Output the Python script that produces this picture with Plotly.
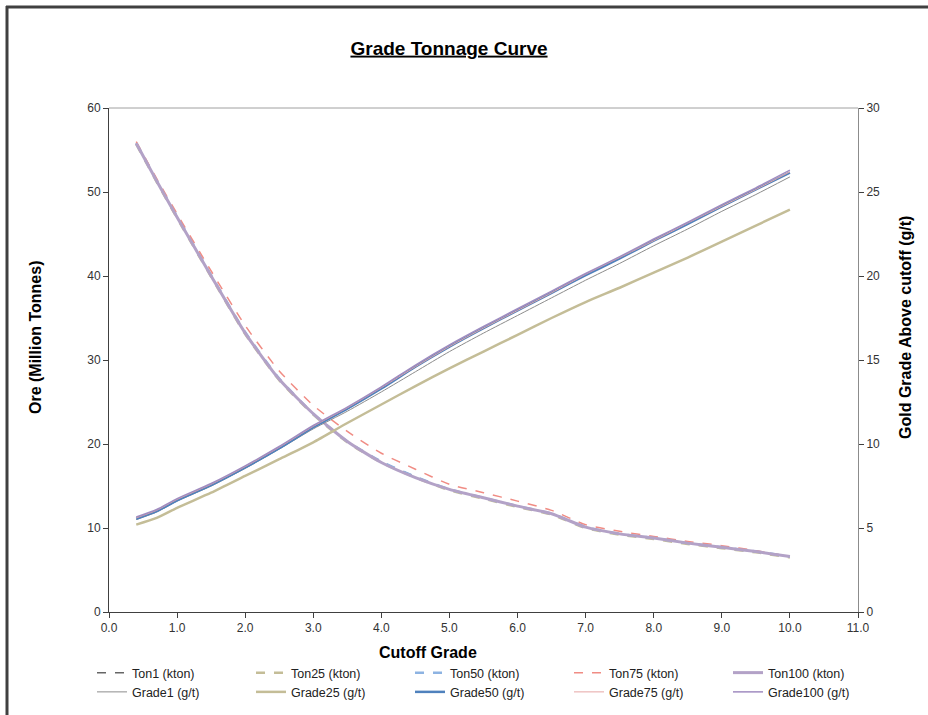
import plotly.graph_objects as go

# Cutoff grades (g/t) at which tonnage and grade were reported
cutoff = [0.4, 0.7, 1.0, 1.5, 2.0, 2.5, 3.0, 3.5, 4.0, 4.5, 5.0,
          5.5, 6.0, 6.5, 7.0, 7.5, 8.0, 8.5, 9.0, 9.5, 10.0]

# Ore above cutoff (million tonnes) per simulation
ton1 = [55.8, 51.3, 47.0, 40.0, 33.2, 27.7, 23.6, 20.3, 17.9, 16.1, 14.6,
        13.6, 12.6, 11.7, 10.1, 9.3, 8.8, 8.2, 7.7, 7.2, 6.6]
ton25 = [55.7, 51.2, 46.9, 39.9, 33.1, 27.6, 23.5, 20.2, 17.8, 16.0, 14.5,
         13.5, 12.5, 11.6, 10.0, 9.2, 8.7, 8.1, 7.6, 7.1, 6.5]
ton50 = [55.8, 51.4, 47.1, 40.1, 33.3, 27.8, 23.6, 20.3, 17.9, 16.1, 14.6,
         13.6, 12.6, 11.7, 10.1, 9.3, 8.8, 8.2, 7.7, 7.2, 6.6]
ton75 = [56.0, 51.6, 47.4, 40.6, 34.1, 28.7, 24.6, 21.5, 18.9, 17.0, 15.2,
         14.2, 13.2, 12.1, 10.4, 9.6, 9.0, 8.4, 7.9, 7.3, 6.6]
ton100 = [55.8, 51.3, 47.0, 40.0, 33.2, 27.7, 23.6, 20.3, 17.8, 16.0, 14.6,
          13.6, 12.6, 11.7, 10.1, 9.3, 8.8, 8.2, 7.7, 7.2, 6.6]

# Mean gold grade above cutoff (g/t) per simulation
grade1 = [5.5, 5.95, 6.6, 7.5, 8.55, 9.7, 10.9, 11.95, 13.1, 14.3, 15.5,
          16.6, 17.65, 18.7, 19.75, 20.75, 21.8, 22.8, 23.85, 24.85, 25.9]
grade25 = [5.2, 5.6, 6.2, 7.1, 8.1, 9.1, 10.1, 11.25, 12.35, 13.45, 14.5,
           15.5, 16.5, 17.5, 18.45, 19.3, 20.2, 21.1, 22.05, 23.0, 23.95]
grade50 = [5.55, 6.0, 6.65, 7.55, 8.6, 9.75, 11.0, 12.1, 13.3, 14.6, 15.8,
           16.9, 17.95, 19.0, 20.05, 21.05, 22.1, 23.1, 24.15, 25.15, 26.15]
grade75 = [5.6, 6.05, 6.7, 7.6, 8.65, 9.8, 11.05, 12.15, 13.35, 14.6, 15.8,
           16.9, 17.95, 19.0, 20.1, 21.1, 22.1, 23.15, 24.15, 25.15, 26.2]
grade100 = [5.65, 6.1, 6.75, 7.65, 8.7, 9.85, 11.1, 12.2, 13.4, 14.7, 15.9,
            17.0, 18.05, 19.1, 20.15, 21.15, 22.2, 23.2, 24.25, 25.25, 26.3]

x_ticks = [0, 1, 2, 3, 4, 5, 6, 7, 8, 9, 10, 11]

FONT = "Liberation Sans, Arial, sans-serif"

fig = go.Figure()

ton_series = [
    ("Ton1 (kton)", ton1, "#666666", 1.5, "dash"),
    ("Ton25 (kton)", ton25, "#c4bd97", 2.5, "dash"),
    ("Ton50 (kton)", ton50, "#8db3e2", 2.5, "dash"),
    ("Ton75 (kton)", ton75, "#f08c84", 1.5, "dash"),
    ("Ton100 (kton)", ton100, "#b3a2c7", 3.0, "solid"),
]
grade_series = [
    ("Grade1 (g/t)", grade1, "#8c8c8c", 1.0),
    ("Grade25 (g/t)", grade25, "#c4bd97", 2.5),
    ("Grade50 (g/t)", grade50, "#4f81bd", 2.5),
    ("Grade75 (g/t)", grade75, "#e6a6a4", 1.0),
    ("Grade100 (g/t)", grade100, "#a08cc0", 1.5),
]

for name, vals, color, width, dash in ton_series:
    fig.add_trace(go.Scatter(
        x=cutoff, y=vals, name=name, mode="lines", yaxis="y",
        line=dict(color=color, width=width, dash=dash, shape="spline", smoothing=0.6),
    ))

for name, vals, color, width in grade_series:
    fig.add_trace(go.Scatter(
        x=cutoff, y=vals, name=name, mode="lines", yaxis="y2",
        line=dict(color=color, width=width, shape="spline", smoothing=0.6),
    ))

axis_font = dict(family=FONT, size=12, color="#333333")

fig.update_layout(
    width=928, height=715, autosize=False,
    margin=dict(l=109, r=70, t=108, b=103, pad=0, autoexpand=False),
    paper_bgcolor="white", plot_bgcolor="white",
    font=dict(family=FONT, color="#000000"),
    showlegend=True,
    title=dict(
        text="<u><b>Grade Tonnage Curve</b></u>",
        x=449 / 928, xref="container", xanchor="center",
        y=1 - 48 / 715, yref="container", yanchor="middle",
        font=dict(family=FONT, size=19, color="#000000"),
    ),
    xaxis=dict(
        range=[0, 11], tickvals=x_ticks, tickformat=".1f",
        showgrid=False, zeroline=False,
        showline=True, linecolor="#404040", linewidth=1,
        ticks="outside", ticklen=5, tickcolor="#404040",
        tickfont=axis_font,
    ),
    yaxis=dict(
        range=[0, 60], dtick=10,
        showgrid=False, zeroline=False,
        showline=True, linecolor="#404040", linewidth=1,
        ticks="outside", ticklen=5, tickcolor="#404040",
        tickfont=axis_font,
    ),
    yaxis2=dict(
        range=[0, 30], dtick=5, overlaying="y", side="right",
        showgrid=False, zeroline=False,
        showline=True, linecolor="#8c8c8c", linewidth=1,
        ticks="outside", ticklen=5, tickcolor="#404040",
        tickfont=axis_font,
    ),
    legend=dict(
        orientation="h", xref="paper", yref="paper",
        x=(92 - 109) / 749, xanchor="left", y=-(658 - 612) / 504, yanchor="top",
        entrywidth=114, entrywidthmode="pixels",
        font=dict(family=FONT, size=12.5, color="#222222"),
        traceorder="normal", tracegroupgap=0,
        bgcolor="rgba(0,0,0,0)", itemwidth=30,
    ),
)

# Axis titles
fig.add_annotation(
    text="<b>Cutoff Grade</b>", xref="paper", yref="paper",
    x=(428 - 109) / 749, y=-(652 - 612) / 504, showarrow=False,
    xanchor="center", yanchor="middle",
    font=dict(family=FONT, size=16, color="#000000"),
)
fig.add_annotation(
    text="<b>Ore (Million Tonnes)</b>", xref="paper", yref="paper",
    x=(35 - 109) / 749, y=(612 - 338) / 504, showarrow=False, textangle=-90,
    xanchor="center", yanchor="middle",
    font=dict(family=FONT, size=16, color="#000000"),
)
fig.add_annotation(
    text="<b>Gold Grade Above cutoff (g/t)</b>", xref="paper", yref="paper",
    x=(905 - 109) / 749, y=(612 - 328) / 504, showarrow=False, textangle=-90,
    xanchor="center", yanchor="middle",
    font=dict(family=FONT, size=16, color="#000000"),
)

# Top border of the plot area
fig.add_shape(type="line", xref="paper", yref="paper", x0=0, x1=1, y0=1, y1=1,
              line=dict(color="#a0a0a0", width=1), layer="above")

# Dark frame around the chart sheet (left and top edges)
fig.add_shape(type="line", xref="paper", yref="paper",
              x0=(7 - 109) / 749, x1=(7 - 109) / 749,
              y0=(612 - 6) / 504, y1=(612 - 760) / 504,
              line=dict(color="#404040", width=3))
fig.add_shape(type="line", xref="paper", yref="paper",
              x0=(6 - 109) / 749, x1=(980 - 109) / 749,
              y0=(612 - 7) / 504, y1=(612 - 7) / 504,
              line=dict(color="#404040", width=3))

fig.write_html("out.html")
